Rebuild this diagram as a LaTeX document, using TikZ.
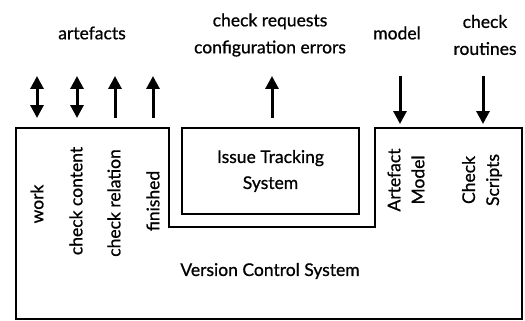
\documentclass[tikz,border=0pt]{standalone}
\usepackage{fontspec}
\setmainfont{Lato}[FakeBold=0.8]
\usetikzlibrary{arrows.meta}
\begin{document}
\begin{tikzpicture}[x=1pt,y=-1pt,
  lbl/.style={font=\fontsize{17.5}{27}\selectfont, align=center, inner sep=0pt},
  vlbl/.style={lbl, font=\fontsize{17.5}{24}\selectfont, rotate=90},
  boxline/.style={line width=2pt, line join=miter},
  flow/.style={line width=3pt, -{Triangle[width=13pt,length=13pt]}},
  biflow/.style={line width=3pt, {Triangle[width=13pt,length=13pt]}-{Triangle[width=13pt,length=13pt]}}]
  \useasboundingbox (0,0) rectangle (525,321);

  % outline of the version control system, wrapped around the issue tracker
  \coordinate (v1) at (16,128);
  \coordinate (v2) at (169,128);
  \coordinate (v3) at (169,227);
  \coordinate (v4) at (375,227);
  \coordinate (v5) at (375,128);
  \coordinate (v6) at (522,128);
  \coordinate (v7) at (522,319);
  \coordinate (v8) at (16,319);
  \draw[boxline] (v1) -- (v2) -- (v3) -- (v4) -- (v5) -- (v6) -- (v7) -- (v8) -- cycle;
  \node[lbl] (vcs) at (270,271) {Version Control System};

  % issue tracking system
  \node[lbl, font=\fontsize{17.5}{26}\selectfont, draw, boxline, minimum width=177pt, minimum height=86pt] (its) at (270.5,171) {Issue Tracking\\System};

  % vertical labels inside the version control system
  \node[vlbl] (work) at (37,204) {work};
  \node[vlbl] (ccont) at (76,201) {check content};
  \node[vlbl] (crel) at (114,203) {check relation};
  \node[vlbl] (fin) at (153,201) {finished};
  \node[vlbl] (amod) at (406,180) {Artefact\\Model};
  \node[vlbl] (cscr) at (482,180) {Check\\Scripts};

  % labels above
  \node[lbl] (artef) at (92,33) {artefacts};
  \node[lbl] (creq) at (270,35) {check requests\\configuration errors};
  \node[lbl] (model) at (397,33) {model};
  \node[lbl] (croutine) at (485,35) {check\\routines};

  % arrow end points
  \coordinate (atop) at (37,76);   \coordinate (abot) at (37,118);
  \coordinate (btop) at (77,76);   \coordinate (bbot) at (77,118);
  \coordinate (ctop) at (115,76);  \coordinate (cbot) at (115,118);
  \coordinate (dtop) at (153,76);  \coordinate (dbot) at (153,118);
  \coordinate (etop) at (272,76);  \coordinate (ebot) at (272,118);
  \coordinate (ftop) at (400,76);  \coordinate (fbot) at (400,124);
  \coordinate (gtop) at (483,76);  \coordinate (gbot) at (483,124);

  \draw[biflow] (atop) -- (abot);
  \draw[biflow] (btop) -- (bbot);
  \draw[flow] (cbot) -- (ctop);
  \draw[flow] (dbot) -- (dtop);
  \draw[flow] (ebot) -- (etop);
  \draw[flow] (ftop) -- (fbot);
  \draw[flow] (gtop) -- (gbot);
\end{tikzpicture}
\end{document}
